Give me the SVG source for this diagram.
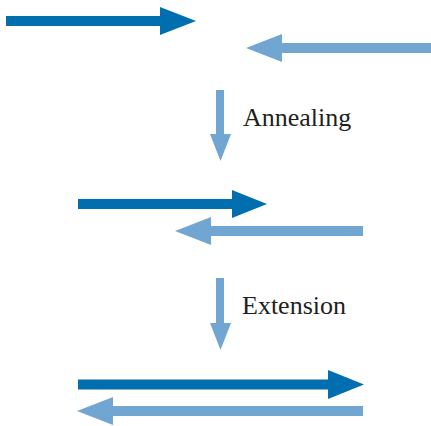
<svg xmlns="http://www.w3.org/2000/svg" width="431" height="426" viewBox="0 0 431 426">
<style>
.dark{fill:#006EAF}
.light{fill:#72A6D2}
.lbl{font-family:"Liberation Serif","Times New Roman",serif;font-size:26px;fill:#231F20}
</style>
<rect width="431" height="426" fill="#fff"/>
<g id="strands-separate">
<path class="dark" d="M6,16 H160 V7 L196,21 L160,35 V26 H6 Z"/>
<path class="light" d="M431,43 H282 V34 L246,48 L282,62 V53 H431 Z"/>
</g>
<g id="strands-annealed">
<path class="dark" d="M78,199 H232 V190 L267,204 L232,218 V209 H78 Z"/>
<path class="light" d="M363,226 H211 V217 L175,231 L211,245 V236 H363 Z"/>
</g>
<g id="strands-extended">
<path class="dark" d="M78,379.5 H328 V370 L364,384.5 L328,399 V389.5 H78 Z"/>
<path class="light" d="M363,406 H113 V397 L77,411 L113,425 V416 H363 Z"/>
</g>
<g id="connectors">
<path class="light" d="M216,90 H224 V134 H231 L220.5,161 L210,134 H216 Z"/>
<path class="light" d="M216,278 H224 V323 H231 L220.5,350 L210,323 H216 Z"/>
</g>
<g id="labels">
<text class="lbl" x="243" y="126">Annealing</text>
<text class="lbl" x="242" y="314">Extension</text>
</g>
</svg>
